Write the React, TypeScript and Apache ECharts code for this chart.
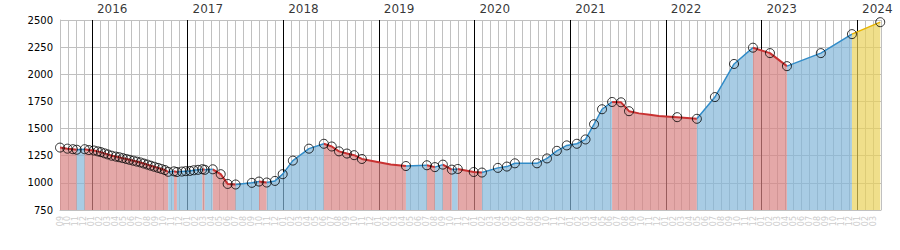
import React, { useEffect, useRef } from "react";
import * as echarts from "echarts";

// Axis: month index 0 = September 2015, 103 = April 2024
const axisStartYear = 2015;
const axisStartMonth = 9;
const axisMonths = 103;

const priceMin = 750;
const priceMax = 2500;
const priceStep = 250;

const yearLabels = ["2016", "2017", "2018", "2019", "2020", "2021", "2022", "2023", "2024"];

// [date, price, marker shown (1) or not (0)]
const pricePoints: [string, number, number][] = [
  ["2015-09-01", 1325, 1],
  ["2015-09-29", 1315, 1],
  ["2015-10-20", 1310, 1],
  ["2015-11-04", 1305, 1],
  ["2015-12-04", 1310, 1],
  ["2015-12-20", 1302, 1],
  ["2016-01-09", 1298, 1],
  ["2016-01-24", 1290, 1],
  ["2016-02-05", 1283, 1],
  ["2016-02-18", 1272, 1],
  ["2016-03-01", 1262, 1],
  ["2016-03-16", 1250, 1],
  ["2016-04-01", 1242, 1],
  ["2016-04-14", 1236, 1],
  ["2016-04-27", 1228, 1],
  ["2016-05-11", 1220, 1],
  ["2016-05-24", 1212, 1],
  ["2016-06-07", 1204, 1],
  ["2016-06-20", 1196, 1],
  ["2016-07-04", 1188, 1],
  ["2016-07-17", 1178, 1],
  ["2016-07-31", 1168, 1],
  ["2016-08-13", 1158, 1],
  ["2016-08-27", 1148, 1],
  ["2016-09-10", 1138, 1],
  ["2016-09-23", 1128, 1],
  ["2016-10-06", 1118, 1],
  ["2016-10-19", 1102, 1],
  ["2016-11-10", 1106, 1],
  ["2016-11-21", 1100, 1],
  ["2016-12-10", 1104, 1],
  ["2016-12-25", 1108, 1],
  ["2017-01-10", 1110, 1],
  ["2017-01-25", 1116, 1],
  ["2017-02-10", 1120, 1],
  ["2017-02-25", 1126, 1],
  ["2017-03-06", 1120, 1],
  ["2017-04-06", 1125, 1],
  ["2017-05-06", 1080, 1],
  ["2017-06-02", 990, 1],
  ["2017-07-02", 985, 1],
  ["2017-09-03", 1000, 1],
  ["2017-09-30", 1012, 1],
  ["2017-10-30", 1003, 1],
  ["2017-11-30", 1018, 1],
  ["2017-12-30", 1080, 1],
  ["2018-02-07", 1205, 1],
  ["2018-04-08", 1315, 1],
  ["2018-06-04", 1360, 1],
  ["2018-07-04", 1335, 1],
  ["2018-08-01", 1290, 1],
  ["2018-09-01", 1270, 1],
  ["2018-09-28", 1255, 1],
  ["2018-10-28", 1220, 1],
  ["2019-01-01", 1190, 0],
  ["2019-02-15", 1170, 0],
  ["2019-04-13", 1155, 1],
  ["2019-07-02", 1162, 1],
  ["2019-08-02", 1145, 1],
  ["2019-09-02", 1168, 1],
  ["2019-10-06", 1122, 1],
  ["2019-10-29", 1128, 1],
  ["2019-12-29", 1100, 1],
  ["2020-01-30", 1095, 1],
  ["2020-03-30", 1138, 1],
  ["2020-05-03", 1150, 1],
  ["2020-06-03", 1180, 1],
  ["2020-08-27", 1180, 1],
  ["2020-10-04", 1225, 1],
  ["2020-11-11", 1295, 1],
  ["2020-12-19", 1345, 1],
  ["2021-01-27", 1360, 1],
  ["2021-02-27", 1400, 1],
  ["2021-04-01", 1540, 1],
  ["2021-05-01", 1678, 1],
  ["2021-06-09", 1745, 1],
  ["2021-07-13", 1742, 1],
  ["2021-08-13", 1660, 1],
  ["2021-09-20", 1640, 0],
  ["2021-11-01", 1628, 0],
  ["2021-12-05", 1615, 0],
  ["2022-02-13", 1605, 1],
  ["2022-04-28", 1590, 1],
  ["2022-07-06", 1790, 1],
  ["2022-09-18", 2095, 1],
  ["2022-11-29", 2245, 1],
  ["2023-02-03", 2195, 1],
  ["2023-04-07", 2075, 1],
  ["2023-08-15", 2195, 1],
  ["2023-12-12", 2370, 1],
  ["2024-03-29", 2480, 1],
];

const trendStyles: Record<string, { line: string; width: number; fill: string }> = {
  up: { line: "#328cc8", width: 1.5, fill: "rgb(131,182,216)" },
  down: { line: "#c83232", width: 2, fill: "rgb(216,131,131)" },
  now: { line: "#e8b400", width: 1.5, fill: "rgb(233,210,90)" },
};

function monthIndex(d: string): number {
  const [y, m, day] = d.split("-").map(Number);
  const daysInMonth = new Date(y, m, 0).getDate();
  return (y - axisStartYear) * 12 + (m - axisStartMonth) + (day - 1) / daysInMonth;
}

function buildOption() {
  const pts = pricePoints.map(([d, p, mk]) => ({ x: monthIndex(d), p, mk }));
  const segKinds: string[] = [];
  let prev = "up";
  for (let i = 0; i < pts.length - 1; i++) {
    let k: string;
    if (i === pts.length - 2) k = "now";
    else if (pts[i + 1].p > pts[i].p) k = "up";
    else if (pts[i + 1].p < pts[i].p) k = "down";
    else k = prev;
    segKinds.push(k);
    prev = k;
  }
  const runs: { kind: string; from: number; to: number }[] = [];
  let start = 0;
  for (let i = 1; i <= segKinds.length; i++) {
    if (i === segKinds.length || segKinds[i] !== segKinds[start]) {
      runs.push({ kind: segKinds[start], from: start, to: i });
      start = i;
    }
  }

  const runSeries = runs.map((r) => {
    const st = trendStyles[r.kind];
    return {
      type: "line",
      silent: true,
      z: 3,
      symbol: "none",
      showSymbol: false,
      data: pts.slice(r.from, r.to + 1).map((q) => [q.x, q.p]),
      lineStyle: { color: st.line, width: st.width },
      areaStyle: { color: st.fill, opacity: 0.7, origin: "start" },
    };
  });

  const font = "'DejaVu Sans', Verdana, sans-serif";

  return {
    animation: false,
    grid: { left: 60, right: 19, top: 20, bottom: 40, containLabel: false },
    xAxis: {
      type: "value",
      min: 0,
      max: axisMonths,
      interval: 1,
      axisLine: { show: true, lineStyle: { color: "#c0c0c0", width: 1 } },
      axisTick: { show: false },
      splitLine: { show: true, lineStyle: { color: "#c0c0c0", width: 1 } },
      axisLabel: {
        rotate: 90,
        fontSize: 8,
        color: "#cccccc",
        fontFamily: font,
        margin: 6,
        showMaxLabel: false,
        formatter: (v: number) => {
          const m = ((axisStartMonth - 1 + Math.round(v)) % 12) + 1;
          return (m < 10 ? "0" : "") + m;
        },
      },
    },
    yAxis: {
      type: "value",
      min: priceMin,
      max: priceMax,
      interval: priceStep,
      axisLine: { show: true, lineStyle: { color: "#c0c0c0", width: 1 } },
      axisTick: { show: false },
      splitLine: { show: true, lineStyle: { color: "#c0c0c0", width: 1 } },
      axisLabel: {
        fontSize: 10,
        color: "#000",
        fontFamily: font,
        margin: 7,
        formatter: (v: number) => String(v),
      },
    },
    series: [
      {
        type: "line",
        silent: true,
        z: 1,
        symbol: "none",
        data: [[0, priceMin]],
        lineStyle: { width: 0, opacity: 0 },
        markLine: {
          silent: true,
          z: 1,
          symbol: ["none", "none"],
          label: { show: false },
          lineStyle: { color: "#000", width: 1, type: "solid" },
          data: yearLabels.map((y) => ({ xAxis: monthIndex(`${y}-01-01`) })),
        },
      },
      ...runSeries,
      {
        type: "scatter",
        silent: true,
        z: 5,
        symbol: "circle",
        symbolSize: 9,
        data: pts.filter((q) => q.mk === 1).map((q) => [q.x, q.p]),
        itemStyle: { color: "rgba(0,0,0,0)", borderColor: "#000", borderWidth: 1 },
      },
      {
        type: "scatter",
        silent: true,
        z: 5,
        symbolSize: 0,
        clip: false,
        data: yearLabels.map((y) => [monthIndex(`${y}-01-01`), priceMax]),
        label: {
          show: true,
          position: "right",
          distance: 5,
          offset: [0, -11],
          fontSize: 12,
          color: "#000",
          fontFamily: font,
          formatter: (p: any) => yearLabels[p.dataIndex],
        },
      },
    ],
  };
}

export default function App() {
  const ref = useRef<HTMLDivElement>(null);
  useEffect(() => {
    if (!ref.current) return;
    const chart = echarts.init(ref.current, undefined, { renderer: "svg" });
    chart.setOption(buildOption() as any);
    return () => chart.dispose();
  }, []);
  return (
    <div
      ref={ref}
      style={{ position: "absolute", left: 0, top: 0, width: 900, height: 250, background: "#fff" }}
    />
  );
}
